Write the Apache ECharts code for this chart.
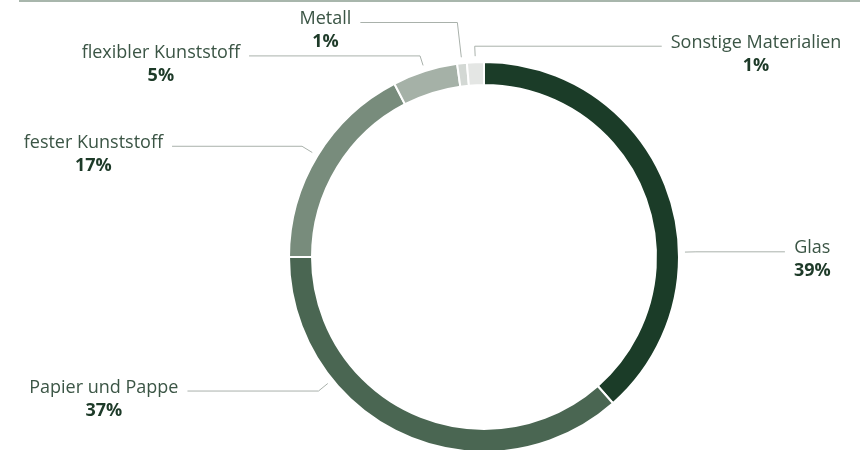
<!DOCTYPE html>
<html lang="de">
<head>
  <meta charset="UTF-8">
  <script src="https://cdn.jsdelivr.net/npm/echarts@6/dist/echarts.min.js"></script>
  <style>
    html, body { margin: 0; padding: 0; background: #fff; }
    #container { width: 860px; height: 450px; }
  </style>
</head>
<body>
  <div id="container"></div>
  <script>
    // Materialanteile in Prozent
    var materials = ['Glas', 'Papier und Pappe', 'fester Kunststoff', 'flexibler Kunststoff', 'Metall', 'Sonstige Materialien'];
    var shares = [38.5, 36.5, 17.4, 5.4, 0.8, 1.4];
    var colors = ['#1b3c28', '#4a6652', '#788c7c', '#a5b1a7', '#d3d8d4', '#e4e6e4'];

    // Geometrie des Rings
    var cx = 484, cy = 257, rInner = 172, rOuter = 195;

    // Führungslinien: Ankerwinkel (null = Mitte des Segments), Knickradius, horizontale Länge, Seite
    var guides = [
      { angle: 88.6, elbow: 212, run: 89, side: 1 },
      { angle: 231, elbow: 213, run: 131, side: -1 },
      { angle: null, elbow: 213, run: 130, side: -1 },
      { angle: null, elbow: 211, run: 171, side: -1 },
      { angle: null, elbow: 236, run: 97, side: -1 },
      { angle: null, elbow: 211, run: 187, side: 1 }
    ];

    var total = shares.reduce(function (a, b) { return a + b; }, 0);
    var midAngles = [];
    var acc = 0;
    for (var i = 0; i < shares.length; i++) {
      midAngles.push((acc + shares[i] / 2) / total * 360);
      acc += shares[i];
    }

    function polar(deg, r) {
      var a = deg * Math.PI / 180;
      return [cx + r * Math.sin(a), cy - r * Math.cos(a)];
    }

    var myChart = echarts.init(document.getElementById('container'));
    var option = {
      animation: false,
      textStyle: { fontFamily: 'Open Sans' },
      graphic: [{
        type: 'rect',
        shape: { x: 19, y: 0, width: 841, height: 2 },
        style: { fill: '#a8b6ac' },
        silent: true
      }],
      series: [{
        type: 'pie',
        center: [cx, cy],
        radius: [rInner, rOuter],
        startAngle: 90,
        clockwise: true,
        avoidLabelOverlap: false,
        itemStyle: { borderColor: '#fff', borderWidth: 2 },
        emphasis: { disabled: true },
        label: {
          show: true,
          position: 'outside',
          formatter: function (p) {
            return '{n|' + p.name + '}\n{p|' + Math.round(p.value) + '%}';
          },
          rich: {
            n: { fontFamily: 'Open Sans', fontSize: 18, lineHeight: 23, color: '#3b5545', align: 'center' },
            p: { fontFamily: 'Open Sans', fontSize: 18, lineHeight: 23, fontWeight: 'bold', color: '#1d3a28', align: 'center' }
          }
        },
        labelLine: {
          show: true,
          lineStyle: { color: '#a9b1ab', width: 1 }
        },
        labelLayout: function (p) {
          var g = guides[p.dataIndex];
          var ang = g.angle === null ? midAngles[p.dataIndex] : g.angle;
          var start = polar(ang, rOuter + 6);
          var knee = polar(ang, g.elbow);
          var end = [knee[0] + g.side * g.run, knee[1]];
          return {
            x: end[0] + g.side * 9,
            y: knee[1] - 15,
            align: g.side > 0 ? 'left' : 'right',
            verticalAlign: 'top',
            labelLinePoints: [start, knee, end]
          };
        },
        data: materials.map(function (m, i) {
          return { name: m, value: shares[i], itemStyle: { color: colors[i] } };
        })
      }]
    };
    myChart.setOption(option);
  </script>
</body>
</html>
